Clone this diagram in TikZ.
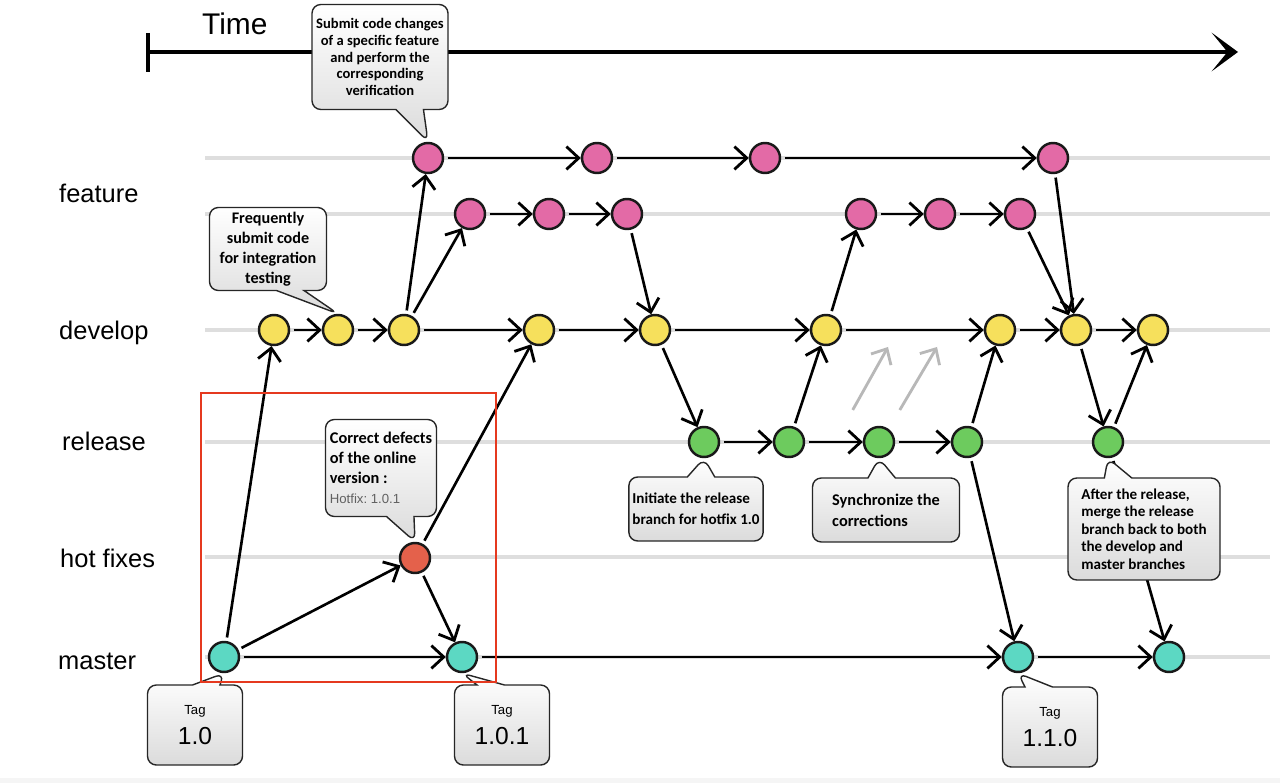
\documentclass[tikz,border=0pt]{standalone}
\usepackage{fontspec}
\setmainfont{Carlito}
\newfontfamily\lanefont{Liberation Sans}
\usetikzlibrary{arrows.meta, shapes.callouts}

\definecolor{featurepink}{HTML}{E36AA6}
\definecolor{developyellow}{HTML}{F6E05C}
\definecolor{releasegreen}{HTML}{6DCB5E}
\definecolor{hotfixred}{HTML}{E4614B}
\definecolor{masterteal}{HTML}{5CD8C3}
\definecolor{lanegray}{HTML}{DEDEDE}
\definecolor{framered}{HTML}{E5391F}

\tikzset{
    commit/.style = {circle, draw = black!90, line width = 1.4pt, minimum size = 0.6cm, inner sep = 0pt},
    flow/.style = {line width = 1.5pt, shorten <= 2pt, -{Straight Barb[length = 7pt, width = 13pt, line width = 1.6pt]}},
    lane/.style = {lanegray, line width = 2pt},
    lanename/.style = {font = \lanefont\fontsize{14.5}{16}\selectfont, anchor = west},
    note/.style = {rectangle callout, draw = black!85, line width = 0.8pt, rounded corners = 5pt,
        top color = white, bottom color = black!14, callout pointer width = 0.55cm, inner sep = 2pt},
    tag/.style = {note, align = center, font = \lanefont, minimum width = 1.9cm, minimum height = 1.6cm}
}

\begin{document}
\begin{tikzpicture}[x = 0.02cm, y = -0.02cm]
    \useasboundingbox [fill = white] (0, 0) rectangle (1280, 783);
    \fill [black!4] (0, 778) rectangle (1280, 783);

    % lanes
    \draw [lane] (205, 158) -- (1270, 158);
    \draw [lane] (205, 214) -- (1270, 214);
    \draw [lane] (205, 330) -- (1270, 330);
    \draw [lane] (205, 442) -- (1270, 442);
    \draw [lane] (205, 557) -- (1270, 557);
    \draw [lane] (205, 657) -- (1270, 657);

    \node [lanename] (feature) at (53, 193) {feature};
    \node [lanename] (develop) at (53, 333) {develop};
    \node [lanename] (release) at (56, 441) {release};
    \node [lanename] (hotfixes) at (54, 558) {hot fixes};
    \node [lanename] (master) at (52, 661) {master};

    % time axis
    \node [lanename, font = \lanefont\fontsize{17}{19}\selectfont] (time) at (196, 24) {Time};
    \coordinate (tstart) at (148, 52);
    \coordinate (tend) at (1238, 52);
    \draw [line width = 2.5pt] (148, 33) -- (148, 72);
    \draw [line width = 2.2pt, -{Stealth[length = 15pt, width = 22pt, inset = 9pt]}] (tstart) -- (tend);

    % commits
    \node [commit, fill = featurepink] (f1) at (428, 158) {};
    \node [commit, fill = featurepink] (f2) at (597, 158) {};
    \node [commit, fill = featurepink] (f3) at (765, 158) {};
    \node [commit, fill = featurepink] (f4) at (1053, 158) {};
    \node [commit, fill = featurepink] (g1) at (470, 214) {};
    \node [commit, fill = featurepink] (g2) at (549, 214) {};
    \node [commit, fill = featurepink] (g3) at (627, 214) {};
    \node [commit, fill = featurepink] (g4) at (861, 214) {};
    \node [commit, fill = featurepink] (g5) at (940, 214) {};
    \node [commit, fill = featurepink] (g6) at (1020, 214) {};
    \node [commit, fill = developyellow] (d1) at (274, 330) {};
    \node [commit, fill = developyellow] (d2) at (338, 330) {};
    \node [commit, fill = developyellow] (d3) at (404, 330) {};
    \node [commit, fill = developyellow] (d4) at (539, 330) {};
    \node [commit, fill = developyellow] (d5) at (655, 330) {};
    \node [commit, fill = developyellow] (d6) at (826, 330) {};
    \node [commit, fill = developyellow] (d7) at (1000, 330) {};
    \node [commit, fill = developyellow] (d8) at (1076, 330) {};
    \node [commit, fill = developyellow] (d9) at (1153, 330) {};
    \node [commit, fill = releasegreen] (r1) at (704, 442) {};
    \node [commit, fill = releasegreen] (r2) at (789, 442) {};
    \node [commit, fill = releasegreen] (r3) at (879, 442) {};
    \node [commit, fill = releasegreen] (r4) at (967, 442) {};
    \node [commit, fill = releasegreen] (r5) at (1108, 442) {};
    \node [commit, fill = hotfixred] (h1) at (415, 558) {};
    \node [commit, fill = masterteal] (m1) at (224, 657) {};
    \node [commit, fill = masterteal] (m2) at (462, 657) {};
    \node [commit, fill = masterteal] (m3) at (1018, 657) {};
    \node [commit, fill = masterteal] (m4) at (1169, 657) {};

    % history
    \draw [flow] (m1) -- (d1);
    \draw [flow] (m1) -- (h1);
    \draw [flow] (m1) -- (m2);
    \draw [flow] (h1) -- (m2);
    \draw [flow] (h1) -- (d4);
    \draw [flow] (m2) -- (m3);
    \draw [flow] (m3) -- (m4);
    \draw [flow] (d1) -- (d2);
    \draw [flow] (d2) -- (d3);
    \draw [flow] (d3) -- (d4);
    \draw [flow] (d4) -- (d5);
    \draw [flow] (d5) -- (d6);
    \draw [flow] (d6) -- (d7);
    \draw [flow] (d7) -- (d8);
    \draw [flow] (d8) -- (d9);
    \draw [flow] (d3) -- (f1);
    \draw [flow] (d3) -- (g1);
    \draw [flow] (f1) -- (f2);
    \draw [flow] (f2) -- (f3);
    \draw [flow] (f3) -- (f4);
    \draw [flow] (g1) -- (g2);
    \draw [flow] (g2) -- (g3);
    \draw [flow] (g3) -- (d5);
    \draw [flow] (d5) -- (r1);
    \draw [flow] (r1) -- (r2);
    \draw [flow] (r2) -- (r3);
    \draw [flow] (r3) -- (r4);
    \draw [flow] (r2) -- (d6);
    \draw [flow] (d6) -- (g4);
    \draw [flow] (g4) -- (g5);
    \draw [flow] (g5) -- (g6);
    \draw [flow] (g6) -- (d8);
    \draw [flow] (f4) -- (d8);
    \draw [flow] (r4) -- (d7);
    \draw [flow] (r4) -- (m3);
    \draw [flow] (d8) -- (r5);
    \draw [flow] (r5) -- (d9);
    \draw [flow] (r5) -- (m4);

    % faded sync arrows
    \draw [flow, black!28, line width = 1.6pt] (851, 413) -- (888, 347);
    \draw [flow, black!28, line width = 1.6pt] (898, 413) -- (937, 347);

    % notes
    \node [note, align = center, minimum width = 2.72cm, minimum height = 2.1cm,
        font = \bfseries\fontsize{8.3}{9.6}\selectfont, callout absolute pointer = {(f1.north)}]
        (verify) at (380, 57) {Submit code changes\\of a specific feature\\and perform the\\corresponding\\verification};
    \node [note, align = center, minimum width = 2.34cm, minimum height = 1.66cm,
        font = \bfseries\fontsize{9.2}{11.3}\selectfont, callout absolute pointer = {(d2.north)}]
        (integrate) at (268, 249) {Frequently\\submit code\\for integration\\testing};
    \node [note, align = left, minimum width = 2.22cm, minimum height = 1.94cm,
        font = \bfseries\fontsize{9.3}{11.3}\selectfont, callout absolute pointer = {(h1.north)}]
        (defects) at (381, 468) {Correct defects\\of the online\\version :\\{\lanefont\mdseries\fontsize{7.5}{9}\selectfont\color{black!62}Hotfix:\ 1.0.1}};
    \node [note, align = left, minimum width = 2.46cm, minimum height = 1.28cm,
        font = \bfseries\fontsize{8.6}{11.8}\selectfont, callout absolute pointer = {(r1.south)}]
        (initiate) at (696, 509) {Initiate the release\\branch for hotfix 1.0};
    \node [note, align = left, minimum width = 2.94cm, minimum height = 1.28cm,
        font = \bfseries\fontsize{9.3}{11.8}\selectfont, callout absolute pointer = {(r3.south)}]
        (sync) at (886, 510) {Synchronize the\\corrections};
    \node [note, align = left, minimum width = 3.04cm, minimum height = 2.04cm,
        font = \bfseries\fontsize{8.6}{10}\selectfont, callout absolute pointer = {(r5.south)}]
        (merge) at (1144, 529) {After the release,\\merge the release\\branch back to both\\the develop and\\master branches};

    % tags
    \node [tag, callout absolute pointer = {(m1.south)}] (tag100) at (195, 725)
        {\fontsize{7.5}{9}\selectfont Tag\\[5pt]\fontsize{14}{16}\selectfont 1.0};
    \node [tag, callout absolute pointer = {(m2.south)}] (tag101) at (502, 725)
        {\fontsize{7.5}{9}\selectfont Tag\\[5pt]\fontsize{14}{16}\selectfont 1.0.1};
    \node [tag, callout absolute pointer = {(m3.south)}] (tag110) at (1050, 727)
        {\fontsize{7.5}{9}\selectfont Tag\\[5pt]\fontsize{14}{16}\selectfont 1.1.0};

    % hotfix frame
    \draw [framered, line width = 1.6pt] (201, 393) rectangle (496, 682);
\end{tikzpicture}
\end{document}
